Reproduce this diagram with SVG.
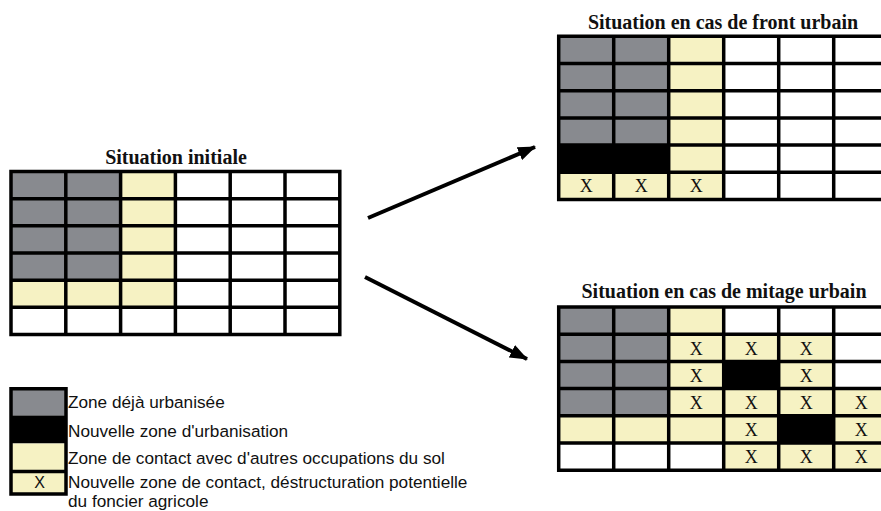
<svg xmlns="http://www.w3.org/2000/svg" width="881" height="511" viewBox="0 0 881 511">
  <style>
    .bg { fill: #ffffff; }
    .urb { fill: #888a8f; }
    .new { fill: #000000; }
    .contact { fill: #f6f2c3; }
    .grid { fill: none; stroke: #000000; stroke-width: 3.5; stroke-linecap: square; }
    .title { font-family: "Liberation Serif", "Times New Roman", serif; font-weight: bold; font-size: 20px; fill: #111111; text-anchor: middle; }
    .x { font-family: "Liberation Serif", "Times New Roman", serif; font-size: 18px; fill: #111111; text-anchor: middle; }
    .lx { font-family: "Liberation Sans", Arial, sans-serif; font-size: 16px; fill: #111111; text-anchor: middle; }
    .legend { font-family: "Liberation Sans", Arial, sans-serif; font-size: 17.2px; fill: #111111; }
    .arrow { fill: none; stroke: #000000; stroke-width: 4; }
  </style>
  <defs>
    <marker id="head" markerUnits="userSpaceOnUse" markerWidth="18" markerHeight="14" refX="17" refY="7" orient="auto">
      <path d="M0,0 L18,7 L0,14 Z" fill="#000000"/>
    </marker>
  </defs>

  <rect x="0" y="0" width="881" height="511" fill="#ffffff"/>

  <!-- Initial grid -->
  <g id="situation-initiale">
    <text class="title" x="176" y="164">Situation initiale</text>
    <rect class="bg" x="11" y="171.5" width="328.8" height="163"/>
    <rect class="urb" x="11" y="171.5" width="109.6" height="108.7"/>
    <rect class="contact" x="120.6" y="171.5" width="54.8" height="135.8"/>
    <rect class="contact" x="11" y="280.2" width="109.6" height="27.1"/>
    <path class="grid" d="M11,171.5 V334.5 M65.8,171.5 V334.5 M120.6,171.5 V334.5 M175.4,171.5 V334.5 M230.2,171.5 V334.5 M285,171.5 V334.5 M339.8,171.5 V334.5
      M11,171.5 H339.8 M11,198.7 H339.8 M11,225.8 H339.8 M11,253 H339.8 M11,280.2 H339.8 M11,307.3 H339.8 M11,334.5 H339.8"/>
  </g>

  <!-- Urban front grid -->
  <g id="front-urbain">
    <text class="title" x="723" y="28.5">Situation en cas de front urbain</text>
    <rect class="bg" x="558.7" y="36.3" width="330" height="163.2"/>
    <rect class="urb" x="558.7" y="36.3" width="110" height="108.8"/>
    <rect class="new" x="558.7" y="145.1" width="110" height="27.2"/>
    <rect class="contact" x="668.7" y="36.3" width="55" height="163.2"/>
    <rect class="contact" x="558.7" y="172.3" width="110" height="27.2"/>
    <path class="grid" d="M558.7,36.3 V199.5 M613.7,36.3 V199.5 M668.7,36.3 V199.5 M723.7,36.3 V199.5 M778.7,36.3 V199.5 M833.7,36.3 V199.5
      M558.7,36.3 H890 M558.7,63.5 H890 M558.7,90.7 H890 M558.7,117.9 H890 M558.7,145.1 H890 M558.7,172.3 H890 M558.7,199.5 H890"/>
    <text class="x" x="586.2" y="191.5">X</text>
    <text class="x" x="641.2" y="191.5">X</text>
    <text class="x" x="696.2" y="191.5">X</text>
  </g>

  <!-- Urban sprawl grid -->
  <g id="mitage-urbain">
    <text class="title" x="724" y="297.5">Situation en cas de mitage urbain</text>
    <rect class="bg" x="558.7" y="307" width="330" height="163.2"/>
    <rect class="urb" x="558.7" y="307" width="110" height="108.8"/>
    <rect class="contact" x="668.7" y="307" width="55" height="136"/>
    <rect class="contact" x="558.7" y="415.8" width="110" height="27.2"/>
    <rect class="contact" x="723.7" y="334.2" width="110" height="136"/>
    <rect class="contact" x="833.7" y="388.6" width="55" height="81.6"/>
    <rect class="new" x="723.7" y="361.4" width="55" height="27.2"/>
    <rect class="new" x="778.7" y="415.8" width="55" height="27.2"/>
    <path class="grid" d="M558.7,307 V470.2 M613.7,307 V470.2 M668.7,307 V470.2 M723.7,307 V470.2 M778.7,307 V470.2 M833.7,307 V470.2
      M558.7,307 H890 M558.7,334.2 H890 M558.7,361.4 H890 M558.7,388.6 H890 M558.7,415.8 H890 M558.7,443 H890 M558.7,470.2 H890"/>
    <text class="x" x="696.2" y="354.5">X</text>
    <text class="x" x="751.2" y="354.5">X</text>
    <text class="x" x="806.2" y="354.5">X</text>
    <text class="x" x="696.2" y="381.7">X</text>
    <text class="x" x="806.2" y="381.7">X</text>
    <text class="x" x="696.2" y="408.9">X</text>
    <text class="x" x="751.2" y="408.9">X</text>
    <text class="x" x="806.2" y="408.9">X</text>
    <text class="x" x="861.2" y="408.9">X</text>
    <text class="x" x="751.2" y="436.1">X</text>
    <text class="x" x="861.2" y="436.1">X</text>
    <text class="x" x="751.2" y="463.3">X</text>
    <text class="x" x="806.2" y="463.3">X</text>
    <text class="x" x="861.2" y="463.3">X</text>
  </g>

  <!-- Transitions -->
  <g id="connectors">
    <line class="arrow" x1="368" y1="218" x2="535" y2="147" marker-end="url(#head)"/>
    <line class="arrow" x1="365" y1="277" x2="527" y2="359" marker-end="url(#head)"/>
  </g>

  <!-- Key -->
  <g id="legend">
    <rect class="urb" x="11" y="388.7" width="55" height="26.8"/>
    <rect class="new" x="11" y="415.5" width="55" height="28"/>
    <rect class="contact" x="11" y="443.5" width="55" height="50.5"/>
    <path class="grid" d="M11,388.7 H66 V494 H11 Z M11,471.5 H66"/>
    <text class="lx" x="39.5" y="488">X</text>
    <text class="legend" x="68" y="408">Zone déjà urbanisée</text>
    <text class="legend" x="68" y="436.5">Nouvelle zone d'urbanisation</text>
    <text class="legend" x="68" y="463.5">Zone de contact avec d'autres occupations du sol</text>
    <text class="legend" x="68" y="488">Nouvelle zone de contact, déstructuration potentielle</text>
    <text class="legend" x="68" y="507">du foncier agricole</text>
  </g>
</svg>
